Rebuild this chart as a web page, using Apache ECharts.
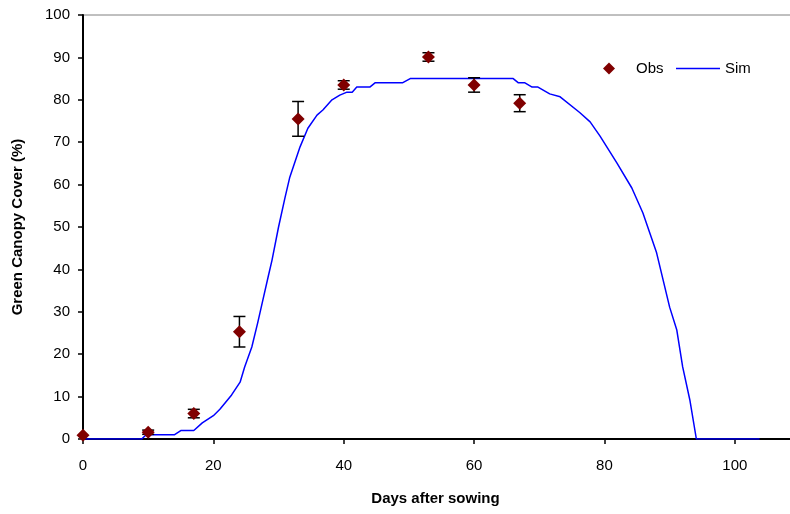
<!DOCTYPE html>
<html><head><meta charset="utf-8">
<script src="https://cdn.jsdelivr.net/npm/echarts@6/dist/echarts.min.js"></script>
<style>html,body{margin:0;padding:0;background:#fff}#c{width:790px;height:514px}</style>
</head><body><div id="c"></div>
<script>
const simDays  = [0,9,9.7,14,15,17,18.3,20,21,22.8,24.1,24.8,25.9,26.8,27.6,28.4,29,30,31,31.7,33.3,34.5,35.9,36.8,38.2,39.4,40.5,41.3,42,44,44.8,49,50.2,66,66.8,67.8,68.9,69.8,71.6,73.2,76.2,77.8,79.3,81.9,84.2,85.9,88,90,91.1,92,93.1,94.1,103.8];
const simCover = [0,0,1,1,2,2,3.8,5.5,7,10.4,13.4,17,21.7,27.4,32.8,38.2,42.2,50,57,61.6,68.9,73.3,76.4,77.6,80,81.1,81.8,81.8,83,83,84,84,85,85,84,84,83,83,81.4,80.7,77,74.8,71.5,65.1,59.2,53.3,43.9,31.1,25.7,17,9.2,0,0];
const obsDays  = [0,10,17,24,33,40,53,60,67];
const obsCover = [0.9,1.6,6,25.3,75.5,83.5,90.1,83.5,79.2];
const obsErr   = [0,0.5,1,3.6,4.1,1,1,1.7,2];
const xTicks = {min:0,max:110,interval:20};
const yTicks = {min:0,max:100,interval:10};

const font = 'Liberation Sans, Arial, sans-serif';
const chart = echarts.init(document.getElementById('c'));
const simData = simDays.map((d,i)=>[d,simCover[i]]);
const obsData = obsDays.map((d,i)=>[d,obsCover[i]]);
const errData = obsDays.map((d,i)=>[d,obsCover[i]-obsErr[i],obsCover[i]+obsErr[i]]);
chart.setOption({
  animation:false,
  grid:{left:83,right:-10,top:15,bottom:75,outerBoundsMode:'none',containLabel:false,show:true,borderColor:'#808080',borderWidth:1},
  legend:[
    {data:['Obs'],left:598,top:56,icon:'diamond',itemWidth:12,itemHeight:12,itemGap:0,textStyle:{fontFamily:font,fontSize:15,color:'#000',padding:[0,0,0,16]}},
    {data:[{name:'Sim',icon:'rect'}],left:671,top:56,itemWidth:44,itemHeight:1.6,itemStyle:{color:'#0000ff'},textStyle:{fontFamily:font,fontSize:15,color:'#000'}}
  ],
  xAxis:{type:'value',min:xTicks.min,max:xTicks.max,interval:xTicks.interval,
    name:'Days after sowing',nameLocation:'middle',nameGap:52,
    nameTextStyle:{fontFamily:font,fontSize:15,fontWeight:'bold',color:'#000',padding:[0,12,0,0]},
    axisLine:{lineStyle:{color:'#000',width:2}},
    axisTick:{show:true,length:5,lineStyle:{color:'#000',width:1.5}},
    axisLabel:{fontFamily:font,fontSize:15,color:'#000',margin:19,showMaxLabel:false},
    splitLine:{show:false}},
  yAxis:{type:'value',min:yTicks.min,max:yTicks.max,interval:yTicks.interval,
    name:'Green Canopy Cover (%)',nameLocation:'middle',nameGap:58,
    nameTextStyle:{fontFamily:font,fontSize:15,fontWeight:'bold',color:'#000'},
    axisLine:{show:true,lineStyle:{color:'#000',width:2}},
    axisTick:{show:true,length:5,lineStyle:{color:'#000',width:1.5}},
    axisLabel:{fontFamily:font,fontSize:15,color:'#000',margin:13},
    splitLine:{show:false}},
  series:[
    {name:'Sim',type:'line',data:simData,symbol:'none',lineStyle:{color:'#0000ff',width:1.5},itemStyle:{color:'#0000ff'},z:2},
    {name:'err',type:'custom',data:errData,z:3,
      renderItem:function(params,api){
        const x=api.value(0), lo=api.value(1), hi=api.value(2);
        if(hi-lo<=0) return null;
        const pl=api.coord([x,lo]), ph=api.coord([x,hi]);
        const w=6;
        const st={stroke:'#000',lineWidth:1.5};
        return {type:'group',children:[
          {type:'line',shape:{x1:pl[0],y1:pl[1],x2:ph[0],y2:ph[1]},style:st},
          {type:'line',shape:{x1:pl[0]-w,y1:pl[1],x2:pl[0]+w,y2:pl[1]},style:st},
          {type:'line',shape:{x1:ph[0]-w,y1:ph[1],x2:ph[0]+w,y2:ph[1]},style:st}
        ]};
      }},
    {name:'Obs',type:'scatter',data:obsData,symbol:'diamond',symbolSize:13,itemStyle:{color:'#800000',opacity:1},z:4}
  ]
});
</script></body></html>
